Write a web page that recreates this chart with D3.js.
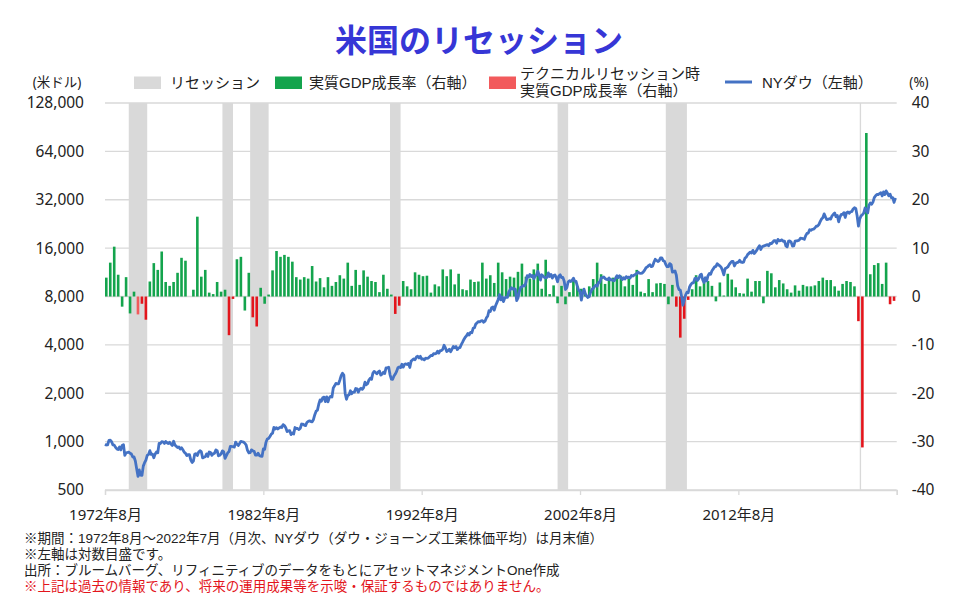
<!DOCTYPE html>
<html><head><meta charset="utf-8">
<script src="https://cdn.jsdelivr.net/npm/d3@7"></script>
<style>
html,body{margin:0;padding:0;background:#fff;}
text{font-family:"Noto Sans","Noto Sans CJK JP",sans-serif;}
</style></head>
<body><svg id="c" width="960" height="600"></svg>
<script>
// ===== DATA =====
const title = "米国のリセッション";
const startMonth = "1972-08";           // first month of the monthly axis
const monthCount = 600;                  // 1972/8 .. 2022/7
const xTickLabels = ["1972年8月","1982年8月","1992年8月","2002年8月","2012年8月"];
const leftTicks = [500,1000,2000,4000,8000,16000,32000,64000,128000];
const rightTicks = [-40,-30,-20,-10,0,10,20,30,40];

// Recession periods (first month, last month inclusive)
const recessionStart = ["1974-02","1980-01","1981-10","1990-08","2001-03","2008-01","2020-04"];
const recessionEnd   = ["1975-03","1980-08","1982-11","1991-03","2001-10","2009-04","2020-04"];

// NY Dow month-end (1972/8 .. 2022/7)
const dow = [
 964,953,956,1018,1020,
 999,955,951,921,901,892,926,888,947,957,822,851,
 856,861,847,837,802,802,757,679,608,666,619,616,
 704,739,768,821,832,879,832,835,794,836,861,852,
 975,973,999,997,975,1003,985,974,990,965,947,1005,
 954,936,919,927,899,916,890,861,847,818,830,831,
 770,742,757,837,841,819,862,877,866,792,799,805,
 839,809,862,855,822,842,846,888,879,816,822,839,
 876,863,786,817,851,868,935,933,932,924,993,964,
 947,975,1004,998,992,977,952,881,850,853,889,875,
 871,824,823,848,820,812,809,901,896,992,1039,1047,
 1076,1113,1130,1226,1200,1222,1199,1216,1233,1225,1276,1259,
 1221,1155,1165,1171,1105,1132,1115,1224,1207,1207,1189,1212,
 1287,1284,1267,1258,1315,1335,1347,1334,1329,1374,1472,1547,
 1571,1709,1819,1784,1877,1893,1775,1898,1768,1878,1914,1896,
 2158,2224,2305,2286,2292,2419,2572,2663,2596,1994,1834,1939,
 1958,2072,1988,2032,2031,2142,2129,2032,2113,2149,2115,2169,
 2342,2258,2294,2419,2480,2440,2661,2737,2693,2645,2706,2753,
 2591,2627,2707,2657,2877,2881,2905,2614,2452,2442,2560,2634,
 2736,2882,2914,2888,3028,2907,3025,3044,3017,3069,2895,3169,
 3223,3268,3235,3359,3397,3319,3394,3257,3272,3226,3305,3301,
 3310,3371,3435,3428,3527,3516,3539,3651,3555,3681,3684,3754,
 3978,3832,3636,3682,3758,3625,3765,3913,3843,3908,3739,3834,
 3844,4011,4158,4321,4465,4556,4708,4611,4789,4755,5074,5117,
 5395,5486,5587,5569,5643,5655,5529,5616,5882,6029,6522,6448,
 6813,6878,6583,7009,7331,7673,8223,7622,7945,7442,7823,7908,
 7907,8546,8800,9063,8900,8952,8883,7539,7843,8592,9117,9181,
 9359,9307,9786,10789,10560,10971,10655,10829,10337,10730,10878,11497,
 10941,10128,10922,10734,10522,10448,10522,11215,10651,10971,10414,10788,
 10887,10495,9879,10735,10912,10502,10523,9950,8848,9075,9852,10022,
 9920,10106,10404,9946,9925,9243,8737,8664,7592,8397,8896,8342,
 8054,7891,7992,8480,8850,8985,9234,9416,9275,9801,9782,10454,
 10488,10584,10358,10226,10188,10435,10140,10174,10080,10027,10428,10783,
 10490,10766,10504,10193,10467,10275,10641,10482,10569,10440,10806,10718,
 10865,10993,11109,11367,11168,11150,11186,11381,11679,12081,12222,12463,
 12622,12269,12354,13063,13628,13409,13212,13358,13896,13930,13372,13265,
 12650,12266,12263,12820,12638,11350,11378,11544,10851,9325,8829,8776,
 8001,7063,7609,8168,8500,8447,9172,9496,9712,9713,10345,10428,
 10067,10325,10857,11009,10137,9774,10466,10015,10788,11118,11006,11578,
 11892,12226,12320,12811,12570,12414,12143,11614,10913,11955,12046,12218,
 12633,12952,13212,13214,12393,12880,13009,13091,13437,13096,13026,13104,
 13861,14054,14579,14840,15116,14910,15500,14810,15130,15546,16086,16577,
 15699,16322,16458,16581,16717,16827,16563,17098,17043,17391,17828,17823,
 17165,18133,17776,17841,18011,17620,17690,16528,16285,17664,17720,17425,
 16466,16517,17685,17774,17787,17930,18432,18401,18308,18142,19124,19763,
 19864,20812,20663,20941,21009,21350,21891,21948,22405,23377,24272,24719,
 26149,25029,24103,24163,24416,24271,25415,25965,26458,25116,25538,23327,
 25000,25916,25929,26593,24815,26600,26864,26403,26917,27046,28051,28538,
 28256,25409,21917,24346,25383,25813,26428,28430,27782,26502,29639,30606,
 29983,30932,32982,33875,34529,34503,34935,35361,33844,35820,34484,36338,
 35132,33893,34678,32977,32990,30775,32845
];

// Real GDP growth, quarterly annualised % (1972Q3 .. 2022Q2)
const gdpStart = "1972Q3";
const gdp = [
 3.9,7.0,
 10.3,4.5,-2.1,4.0,
 -3.5,1.0,-3.7,-1.5,
 -4.8,3.1,6.9,5.5,
 9.3,3.0,2.2,3.0,
 4.9,8.0,7.4,0.0,
 1.4,16.5,4.1,5.5,
 0.8,0.5,3.0,1.0,
 1.4,-8.0,-0.5,7.7,
 8.2,-2.9,4.9,-4.3,
 -6.2,1.8,-1.5,0.4,
 5.4,9.4,8.2,8.6,
 8.2,7.2,4.0,3.5,
 4.0,3.7,6.3,3.1,
 3.8,1.9,4.0,2.2,
 3.0,4.4,3.7,7.0,
 2.2,5.5,2.4,5.4,
 4.1,3.2,3.0,0.9,
 4.5,1.6,0.4,-3.6,
 -1.9,3.2,2.1,1.5,
 5.0,4.5,4.2,4.3,
 0.8,2.5,2.1,5.6,
 4.2,5.6,2.5,4.7,
 1.5,1.3,3.5,3.0,
 3.1,7.0,3.7,4.4,
 2.8,7.0,5.0,3.6,
 4.1,3.9,5.1,6.8,
 4.1,3.7,5.6,6.8,
 1.6,7.6,0.5,2.3,
 -1.4,2.2,-1.6,0.9,
 3.3,2.2,1.6,0.5,
 2.1,3.6,7.0,4.6,
 2.6,3.5,3.9,4.1,
 4.3,2.1,3.7,2.4,
 5.5,1.0,0.7,3.6,
 0.9,2.7,2.8,2.6,
 -1.6,2.4,-2.1,-8.5,
 -4.6,-0.7,1.5,4.4,
 2.1,3.7,3.2,2.2,
 -1.0,2.9,0.2,4.7,
 3.5,1.9,0.7,0.6,
 3.7,1.0,3.2,3.2,
 -1.4,5.3,4.8,1.9,
 3.4,2.7,1.5,0.8,
 2.3,1.2,2.4,2.1,
 2.1,2.3,3.2,3.9,
 3.4,3.4,2.1,1.2,
 2.6,3.2,3.0,2.1,
 -5.1,-31.2,33.8,4.6,
 6.5,6.9,2.6,7.0,
 -1.6,-0.9
];
// quarters drawn as technical-recession bars
const techQuarters = ["1974Q3","1974Q4","1975Q1","1980Q2","1980Q3","1981Q4","1982Q1",
 "1990Q4","1991Q1","2008Q3","2008Q4","2009Q1","2009Q2","2020Q1","2020Q2","2022Q1","2022Q2"];
const techLight = ["1974Q3"];

const legendItems = ["リセッション","実質GDP成長率（右軸）","テクニカルリセッション時|実質GDP成長率（右軸）","NYダウ（左軸）"];
const notes = [
 "※期間：1972年8月～2022年7月（月次、NYダウ（ダウ・ジョーンズ工業株価平均）は月末値）",
 "※左軸は対数目盛です。",
 "出所：ブルームバーグ、リフィニティブのデータをもとにアセットマネジメントOne作成",
 "※上記は過去の情報であり、将来の運用成果等を示唆・保証するものではありません。"
];

// ===== HELPERS =====
const [sy, sm] = startMonth.split("-").map(Number);
const mIdx = s => { const [y,m] = s.split("-").map(Number); return (y-sy)*12 + (m-sm); };
const qLabel = q => { const base = 1972*4 + 2 + q; return Math.floor(base/4) + "Q" + (base%4+1); };
const qMonth = q => q*3; // first month slot of quarter q

// ===== LAYOUT =====
const L = 105, R = 896.7, T = 103, B = 490;
const svg = d3.select("#c");
const x = d3.scaleLinear().domain([0, monthCount]).range([L, R]);
const yL = d3.scaleLog().base(2).domain([500, 128000]).range([B, T]);
const yR = d3.scaleLinear().domain([-40, 40]).range([B, T]);

const GRID = "#d9d9d9", GREEN = "#14a44d", RED = "#e3151c", LRED = "#f25a5c", BLUE = "#4472c4";

// title
svg.append("text").attr("x", 479).attr("y", 38).attr("text-anchor","middle")
  .attr("dominant-baseline","central").attr("font-size", 32).attr("font-weight", 700)
  .attr("fill", "#3636d6").style("font-family","'Noto Sans CJK JP',sans-serif").text(title);

// gridlines
svg.append("g").selectAll("line").data(leftTicks).join("line")
  .attr("x1", L).attr("x2", R).attr("y1", d => yL(d)).attr("y2", d => yL(d))
  .attr("stroke", GRID).attr("stroke-width", 1.3);

// recessions
svg.append("g").selectAll("rect").data(recessionStart).join("rect")
  .attr("x", (d,i) => x(mIdx(d)))
  .attr("width", (d,i) => x(mIdx(recessionEnd[i]) + 1) - x(mIdx(d)))
  .attr("y", T).attr("height", B - T).attr("fill", GRID);

// bars
const bw = 2.6;
svg.append("g").selectAll("rect").data(gdp).join("rect")
  .attr("x", (d,i) => x(qMonth(i)))
  .attr("width", bw)
  .attr("y", d => yR(Math.max(0, d)))
  .attr("height", d => Math.abs(yR(d) - yR(0)))
  .attr("fill", (d,i) => {
    const l = qLabel(i);
    if (techLight.includes(l)) return LRED;
    return techQuarters.includes(l) ? RED : GREEN;
  });

// dow line
const line = d3.line().x((d,i) => x(i)).y(d => yL(d));
svg.append("path").datum(dow).attr("d", line).attr("fill","none")
  .attr("stroke", BLUE).attr("stroke-width", 2.8).attr("stroke-linejoin","round");

// bottom axis
const xa = svg.append("g").attr("transform", `translate(0,${B})`)
  .call(d3.axisBottom(x).tickValues([0,120,240,360,480,600]).tickSize(5).tickPadding(14)
    .tickFormat((d,i) => xTickLabels[i] || ""));
xa.select(".domain").attr("stroke", GRID).attr("stroke-width", 1.3);
xa.selectAll(".tick line").attr("stroke", GRID).attr("stroke-width", 1.3);
xa.selectAll("text").attr("font-size", 15).attr("fill", "#222")
  .style("font-family", "'Noto Sans','Noto Sans CJK JP',sans-serif");

// left axis
const la = svg.append("g").attr("transform", `translate(${L},0)`)
  .call(d3.axisLeft(yL).tickValues(leftTicks).tickSize(0).tickPadding(21).tickFormat(d3.format(",")));
la.select(".domain").remove();
la.selectAll("text").attr("font-size", 15.5).attr("fill", "#222")
  .style("font-family", "'Noto Sans',sans-serif");

// right axis
const ra = svg.append("g").attr("transform", `translate(${R},0)`)
  .call(d3.axisRight(yR).tickValues(rightTicks).tickSize(0).tickPadding(15).tickFormat(d => String(d)));
ra.select(".domain").remove();
ra.selectAll("text").attr("font-size", 15.5).attr("fill", "#222")
  .style("font-family", "'Noto Sans',sans-serif");

// axis unit labels
svg.append("text").attr("x", 57).attr("y", 82).attr("text-anchor","middle").attr("dominant-baseline","central")
  .attr("font-size", 13.5).attr("fill","#222").text("(米ドル)");
svg.append("text").attr("x", 919).attr("y", 82).attr("text-anchor","middle").attr("dominant-baseline","central")
  .attr("font-size", 13.5).attr("fill","#222").text("(%)");

// legend
const lg = svg.append("g").attr("font-size", 15).attr("fill", "#222");
const lgX = [134, 275, 489, 725], lgTx = [170, 309, 520, 762];
const lgCol = [GRID, GREEN, LRED, BLUE];
legendItems.forEach((t, i) => {
  if (i < 3) lg.append("rect").attr("x", lgX[i]).attr("y", 76.5).attr("width", 27).attr("height", 12.5).attr("fill", lgCol[i]);
  else lg.append("line").attr("x1", lgX[i]).attr("x2", lgX[i]+27).attr("y1", 82).attr("y2", 82)
        .attr("stroke", lgCol[i]).attr("stroke-width", 3);
  const parts = t.split("|");
  parts.forEach((p, j) => {
    const yy = parts.length === 1 ? 82 : 73 + j*17.5;
    lg.append("text").attr("x", lgTx[i]).attr("y", yy).attr("dominant-baseline","central")
      .attr("fill","#222").style("font-family", "'Liberation Sans','Noto Sans CJK JP',sans-serif").text(p);
  });
});

// notes
const ny = [538, 554.5, 570.5, 586.5];
notes.forEach((t, i) => {
  svg.append("text").attr("x", 24).attr("y", ny[i]).attr("dominant-baseline","central")
    .attr("font-size", 13.5).attr("fill", i === 3 ? "#e3151c" : "#222")
    .style("font-family", "'Liberation Sans','Noto Sans CJK JP',sans-serif").text(t);
});
</script></body></html>
